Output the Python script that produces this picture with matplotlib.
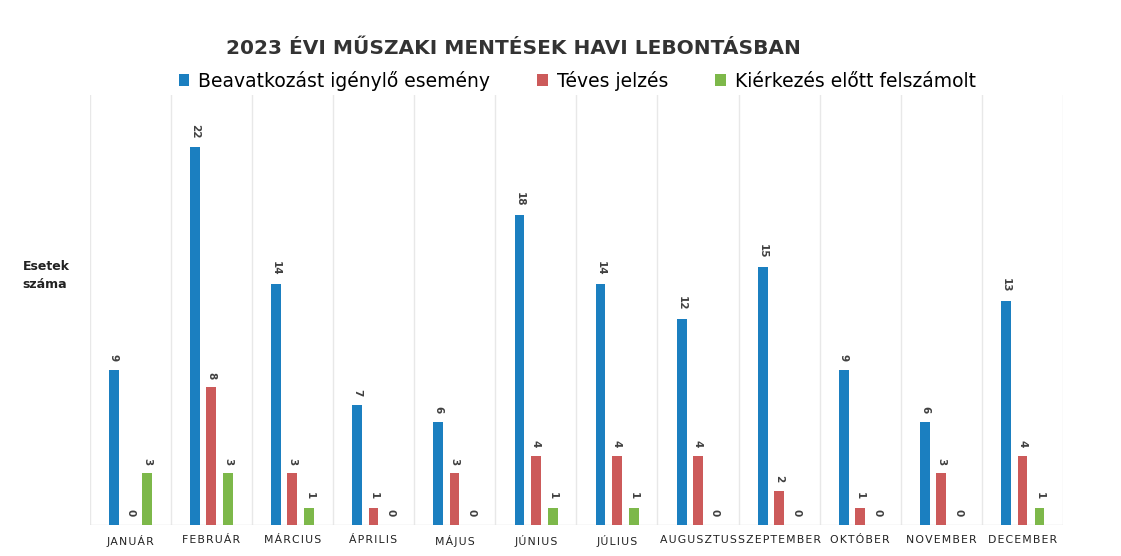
import numpy as np
import matplotlib.pyplot as plt

honapok = ['JANUÁR', 'FEBRUÁR', 'MÁRCIUS', 'ÁPRILIS', 'MÁJUS', 'JÚNIUS',
           'JÚLIUS', 'AUGUSZTUS', 'SZEPTEMBER', 'OKTÓBER', 'NOVEMBER', 'DECEMBER']
beavatkozas = [9, 22, 14, 7, 6, 18, 14, 12, 15, 9, 6, 13]
teves = [0, 8, 3, 1, 3, 4, 4, 4, 2, 1, 3, 4]
felszamolt = [3, 3, 1, 0, 0, 1, 1, 0, 0, 0, 0, 1]

szinek = ['#1b7fc0', '#cc5a5a', '#7db84a']
nevek = ['Beavatkozást igénylő esemény', 'Téves jelzés', 'Kiérkezés előtt felszámolt']

fig = plt.figure(figsize=(11.21, 5.56), dpi=100)
ax = fig.add_axes([89.5 / 1121, 31 / 556, 973.5 / 1121, 430 / 556])

x = np.arange(len(honapok))
w = 0.12
offs = [-0.2, 0.0, 0.21]
for sor, off, c, nev in zip([beavatkozas, teves, felszamolt], offs, szinek, nevek):
    bars = ax.bar(x + off, sor, width=w, color=c, label=nev, zorder=3)
    for b, v in zip(bars, sor):
        ax.text(b.get_x() + b.get_width() / 2, v + 0.5, str(v), rotation=-90,
                ha='center', va='bottom', fontsize=7.5, color='#404040',
                fontweight='bold')

for k in range(len(honapok) + 1):
    ax.axvline(k - 0.5, color='#e8e8e8', lw=1, zorder=1)
ax.axhline(0, color='#e0e0e0', lw=1, zorder=2)

ax.set_xlim(-0.5, len(honapok) - 0.5)
ax.set_ylim(0, 25)
ax.set_xticks(x)
# kis betűköz a hónapneveknél
ax.set_xticklabels(['\u200a'.join(h) for h in honapok], fontsize=7.8, color='#222222')
ax.tick_params(axis='x', length=0, pad=7)
ax.set_yticks([])
for s in ax.spines.values():
    s.set_visible(False)

fig.text(0.458, 0.913, '2023 ÉVI MŰSZAKI MENTÉSEK HAVI LEBONTÁSBAN',
         ha='center', va='center', fontsize=14.5, fontweight='bold', color='#333333')
fig.legend(loc='center', bbox_to_anchor=(0.515, 0.855), ncol=3, frameon=False,
           fontsize=13.5, handlelength=0.55, handleheight=0.55, columnspacing=2.5,
           handletextpad=0.5)
fig.text(0.02, 0.505, 'Esetek\nszáma', ha='left', va='center', fontsize=9,
         fontweight='bold', color='#222222', linespacing=1.5)

fig.savefig('out.png', dpi=100)
